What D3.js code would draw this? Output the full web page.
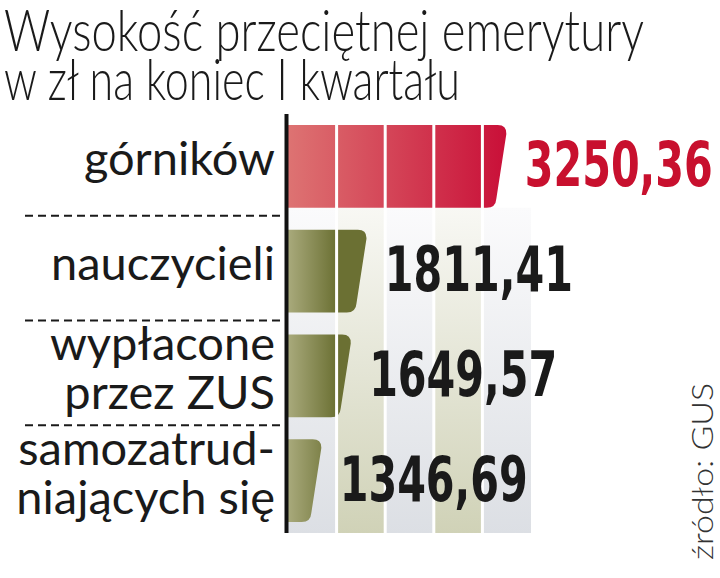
<!DOCTYPE html>
<html>
<head>
<meta charset="utf-8">
<script src="https://cdn.jsdelivr.net/npm/d3@7"></script>
<style>
  body { margin: 0; background: #fff; }
  svg { display: block; }
</style>
</head>
<body>
<svg id="chart" width="720" height="578"></svg>
<script>
// data
var categories = ["górników", "nauczycieli", "wypłacone przez ZUS", "samozatrudniających się"];
var labelLines = [["górników"], ["nauczycieli"], ["wypłacone", "przez ZUS"], ["samozatrud-", "niających się"]];
var values = [3250.36, 1811.41, 1649.57, 1346.69];
var valueLabels = ["3250,36", "1811,41", "1649,57", "1346,69"];
var gridTicks = [1000, 1500, 2000, 2500, 3000, 3500];

var svg = d3.select("#chart"),
    margin = {top: 114, right: 189, bottom: 45, left: 288},
    width = +svg.attr("width") - margin.left - margin.right,
    height = +svg.attr("height") - margin.top - margin.bottom;

svg.append("rect").attr("width", 720).attr("height", 578).attr("fill", "#fff");

// x starts at 1000, like the original graphic
var x = d3.scaleLinear()
    .domain([gridTicks[0], gridTicks[gridTicks.length - 1]])
    .range([margin.left, margin.left + width]);

var y = d3.scaleBand()
    .domain(categories)
    .range([margin.top, margin.top + height])
    .paddingInner(0.21)
    .paddingOuter(0.105);

var defs = svg.append("defs");

function hGrad(id, x1, x2, c1, c2) {
  var g = defs.append("linearGradient").attr("id", id)
      .attr("gradientUnits", "userSpaceOnUse")
      .attr("x1", x1).attr("x2", x2).attr("y1", 0).attr("y2", 0);
  g.append("stop").attr("offset", 0).attr("stop-color", c1);
  g.append("stop").attr("offset", 1).attr("stop-color", c2);
}
function vGrad(id, y1, y2, c1, c2) {
  var g = defs.append("linearGradient").attr("id", id)
      .attr("gradientUnits", "userSpaceOnUse")
      .attr("x1", 0).attr("x2", 0).attr("y1", y1).attr("y2", y2);
  g.append("stop").attr("offset", 0).attr("stop-color", c1);
  g.append("stop").attr("offset", 1).attr("stop-color", c2);
}

var bgTop = y(categories[0]) + y.bandwidth(),
    bgBottom = margin.top + height;

hGrad("redGrad", x(values[0]) - 225, x(values[0]), "#de7674", "#c90f38");
hGrad("oliveGrad", x(gridTicks[0]), x(gridTicks[1]), "#a9aa7c", "#6b7033");
vGrad("greyCol", bgTop, bgBottom, "#fbfbfc", "#dcdfe4");
vGrad("beigeCol", bgTop, bgBottom, "#f8f8f4", "#d0d2b7");

// background columns
svg.append("g")
  .selectAll("rect")
  .data(gridTicks.slice(0, -1))
  .enter().append("rect")
    .attr("x", function(d) { return x(d); })
    .attr("y", bgTop)
    .attr("width", function(d) { return x(d + 500) - x(d); })
    .attr("height", bgBottom - bgTop)
    .attr("fill", function(d, i) { return i % 2 ? "url(#beigeCol)" : "url(#greyCol)"; });

// bar with slanted, rounded right end
function barPath(x0, x1, y0, h) {
  var s = 11, r = 9;
  return "M" + x0 + "," + y0 +
    "L" + (x1 - r) + "," + y0 +
    "Q" + x1 + "," + y0 + " " + (x1 - 0.4) + "," + (y0 + r) +
    "L" + (x1 - s + 0.6) + "," + (y0 + h - r) +
    "Q" + (x1 - s) + "," + (y0 + h) + " " + (x1 - s - r) + "," + (y0 + h) +
    "L" + x0 + "," + (y0 + h) + "Z";
}

svg.append("g")
  .selectAll("path")
  .data(values)
  .enter().append("path")
    .attr("d", function(d, i) { return barPath(x(gridTicks[0]), x(d), y(categories[i]), y.bandwidth()); })
    .attr("fill", function(d, i) { return i === 0 ? "url(#redGrad)" : "url(#oliveGrad)"; });

// white gaps between columns, cutting through bars
svg.append("g")
  .selectAll("line")
  .data(gridTicks.slice(1, -1))
  .enter().append("line")
    .attr("x1", function(d) { return x(d); })
    .attr("x2", function(d) { return x(d); })
    .attr("y1", y(categories[0]))
    .attr("y2", bgBottom)
    .attr("stroke", "#fff")
    .attr("stroke-width", 3);

// dashed separators
svg.append("g")
  .selectAll("line")
  .data(categories.slice(1))
  .enter().append("line")
    .attr("x1", 25)
    .attr("x2", margin.left - 2)
    .attr("y1", function(d) { return y(d) - 14; })
    .attr("y2", function(d) { return y(d) - 14; })
    .attr("stroke", "#1a1a1a")
    .attr("stroke-width", 2)
    .attr("stroke-dasharray", "8,5");

// axis line
svg.append("line")
    .attr("x1", margin.left - 1.5).attr("x2", margin.left - 1.5)
    .attr("y1", margin.top).attr("y2", bgBottom)
    .attr("stroke", "#111")
    .attr("stroke-width", 4);

// category labels
var cat = svg.append("g")
    .attr("font-family", "Lato, 'Noto Sans', sans-serif")
    .attr("font-size", 47)
    .attr("fill", "#1a1a1a")
    .attr("text-anchor", "end");

labelLines.forEach(function(lines, i) {
  var cy = y(categories[i]) + y.bandwidth() / 2;
  lines.forEach(function(t, j) {
    cat.append("text")
      .attr("x", 275)
      .attr("y", cy + 9 + (j - (lines.length - 1) / 2) * 49)
      .text(t);
  });
});

// value labels, squeezed to the condensed width of the original
svg.append("g")
    .attr("font-family", "'Liberation Sans Narrow', 'DejaVu Sans Condensed', sans-serif")
    .attr("font-weight", "bold")
    .attr("font-size", 62)
  .selectAll("text")
  .data(values)
  .enter().append("text")
    .attr("x", function(d) { return x(d) + 18; })
    .attr("y", function(d, i) { return y(categories[i]) + y.bandwidth() / 2 + 20; })
    .attr("textLength", 188)
    .attr("lengthAdjust", "spacingAndGlyphs")
    .attr("fill", function(d, i) { return i === 0 ? "#c8102e" : "#1a1a1a"; })
    .text(function(d, i) { return valueLabels[i]; });

// title
var title = svg.append("g")
    .attr("font-family", "Lato, 'Liberation Sans', sans-serif")
    .attr("font-weight", 300)
    .attr("font-size", 57)
    .attr("fill", "#1a1a1a");
title.append("text").attr("x", 4).attr("y", 51)
    .attr("textLength", 640).attr("lengthAdjust", "spacingAndGlyphs")
    .text("Wysokość przeciętnej emerytury");
title.append("text").attr("x", 4).attr("y", 100)
    .attr("textLength", 456).attr("lengthAdjust", "spacingAndGlyphs")
    .text("w zł na koniec I kwartału");

// source
svg.append("text")
    .attr("transform", "translate(713,560) rotate(-90)")
    .attr("font-family", "Lato, 'Liberation Sans', sans-serif")
    .attr("font-weight", 300)
    .attr("font-size", 30)
    .attr("fill", "#333")
    .attr("textLength", 177).attr("lengthAdjust", "spacingAndGlyphs")
    .text("źródło: GUS");
</script>
</body>
</html>
